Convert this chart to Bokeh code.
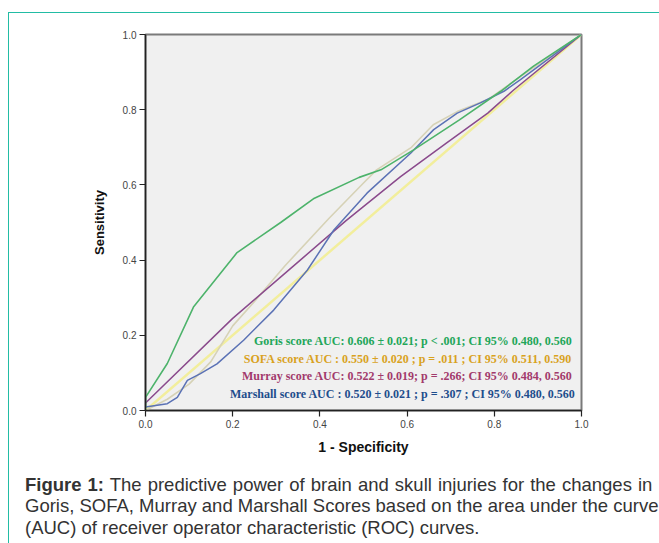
from bokeh.plotting import figure
from bokeh.models import Range1d, FixedTicker, PrintfTickFormatter, Label, Div
from bokeh.layouts import column
from bokeh.embed import file_html
from bokeh.resources import INLINE

# ---- data ----
tick_values = [0.0, 0.2, 0.4, 0.6, 0.8, 1.0]

ref_x = [0.0, 1.0]
ref_y = [0.0, 1.0]

goris_x = [0.0, 0.0, 0.05, 0.11, 0.21, 0.31, 0.385, 0.49, 0.54, 0.615, 0.72, 0.815, 0.89, 1.0]
goris_y = [0.0, 0.035, 0.125, 0.275, 0.42, 0.50, 0.563, 0.62, 0.64, 0.693, 0.773, 0.849, 0.916, 1.0]

sofa_x = [0.0, 0.05, 0.10, 0.15, 0.20, 0.25, 0.32, 0.42, 0.50, 0.53, 0.61, 0.66, 0.715, 0.785, 0.85, 1.0]
sofa_y = [0.0, 0.03, 0.07, 0.13, 0.225, 0.29, 0.385, 0.51, 0.605, 0.64, 0.70, 0.76, 0.795, 0.827, 0.88, 1.0]

murray_x = [0.0, 0.2, 0.355, 0.46, 0.585, 0.69, 0.785, 0.845, 1.0]
murray_y = [0.02, 0.245, 0.40, 0.505, 0.622, 0.711, 0.791, 0.853, 1.0]

marshall_x = [0.0, 0.05, 0.073, 0.096, 0.126, 0.164, 0.225, 0.294, 0.371, 0.432, 0.508, 0.608, 0.661, 0.715, 0.768, 0.822, 0.86, 1.0]
marshall_y = [0.009, 0.018, 0.035, 0.08, 0.098, 0.124, 0.187, 0.267, 0.373, 0.48, 0.578, 0.684, 0.747, 0.791, 0.818, 0.849, 0.88, 1.0]

legend_texts = [
    "Goris score AUC: 0.606 \u00b1 0.021; p < .001; CI 95%  0.480, 0.560",
    "SOFA score AUC : 0.550  \u00b1 0.020 ; p = .011 ; CI 95% 0.511, 0.590",
    "Murray score AUC: 0.522  \u00b1 0.019; p = .266; CI 95% 0.484, 0.560",
    "Marshall score AUC : 0.520 \u00b1 0.021 ; p = .307 ; CI 95% 0.480, 0.560",
]
legend_colors = ["#22a659", "#d9a21e", "#a23a6c", "#1e4d8c"]

caption_bold = "Figure 1:"
caption_lines = [
    "The predictive power of brain and skull injuries for the changes in",
    "Goris, SOFA, Murray and Marshall Scores based on the area under the curve",
    "(AUC) of receiver operator characteristic (ROC) curves.",
]

TEAL = "#22bca4"

# ---- figure ----
p = figure(width=649, height=449, output_backend="svg", toolbar_location=None,
           x_range=Range1d(0, 1), y_range=Range1d(0, 1), title=None,
           min_border_left=136, min_border_right=77, min_border_top=21, min_border_bottom=52)
p.background_fill_color = "#f0f0f0"
p.border_fill_color = "white"
p.outline_line_color = "#7a7a7a"
p.outline_line_width = 2
p.grid.visible = False

for ax in (p.xaxis[0], p.yaxis[0]):
    ax.ticker = FixedTicker(ticks=tick_values)
    ax.formatter = PrintfTickFormatter(format="%.1f")
    ax.major_label_text_font = "Liberation Sans"
    ax.major_label_text_font_size = "10px"
    ax.major_label_text_color = "#444444"
    ax.axis_line_color = "#222222"
    ax.axis_line_width = 1.5
    ax.major_tick_line_color = "#222222"
    ax.major_tick_line_width = 1.2
    ax.major_tick_out = 6
    ax.major_tick_in = 0
    ax.minor_tick_line_color = None
    ax.major_label_standoff = 3
    ax.axis_label_text_font = "Liberation Sans"
    ax.axis_label_text_font_style = "bold"
    ax.axis_label_text_color = "#111111"

p.xaxis.axis_label = "1 - Specificity"
p.xaxis.axis_label_text_font_size = "14px"
p.xaxis.axis_label_standoff = 8
p.yaxis.axis_label = "Sensitivity"
p.yaxis.axis_label_text_font_size = "13px"
p.yaxis.axis_label_standoff = 13

p.line(ref_x, ref_y, line_color="#f2ee9c", line_width=2.5)
p.line(sofa_x, sofa_y, line_color="#d6d2b6", line_width=1.6)
p.line(murray_x, murray_y, line_color="#8a4a8c", line_width=1.5)
p.line(marshall_x, marshall_y, line_color="#5b72b5", line_width=1.5)
p.line(goris_x, goris_y, line_color="#4db36b", line_width=1.6)

# legend text (inside the frame, right-aligned)
def px_to_x(px):
    return (px - 145) / 436.0

def py_to_y(py):
    return (410 - py) / 375.5

legend_rows = [340.7, 358.3, 376.0, 393.3]
for txt, col, row in zip(legend_texts, legend_colors, legend_rows):
    p.add_layout(Label(x=px_to_x(575), y=py_to_y(row), text=txt, text_align="right",
                       text_baseline="middle", text_font="Liberation Serif",
                       text_font_style="bold", text_font_size="12px", text_color=col))

# caption
cap_html = (
    '<div style="font-family: \'Liberation Sans\', Arial, sans-serif; font-size: 18.5px; '
    'line-height: 21.5px; color: #333333; padding-left: 11px; padding-top: 7px; '
    'white-space: nowrap;">'
    '<span style="word-spacing: 0.9px;"><b>' + caption_bold + "</b> " + caption_lines[0] + "</span><br>"
    + caption_lines[1] + "<br>" + caption_lines[2] + "</div>"
)
caption = Div(text=cap_html, width=649, height=80)

layout = column(p, caption, spacing=0,
                styles={"margin-left": "8px", "margin-top": "11.5px",
                        "border-top": "1.5px solid " + TEAL,
                        "border-left": "1.5px solid " + TEAL})

open("out.html", "w").write(file_html(layout, INLINE))
